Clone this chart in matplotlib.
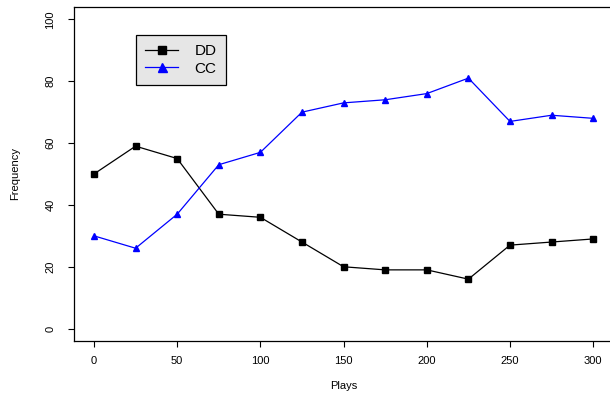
import matplotlib
matplotlib.use('Agg')
import matplotlib.pyplot as plt

plt.rcParams['font.family'] = ['Liberation Sans', 'DejaVu Sans']

plays = [0, 25, 50, 75, 100, 125, 150, 175, 200, 225, 250, 275, 300]
dd = [50, 59, 55, 37, 36, 28, 20, 19, 19, 16, 27, 28, 29]
cc = [30, 26, 37, 53, 57, 70, 73, 74, 76, 81, 67, 69, 68]
xticks = [0, 50, 100, 150, 200, 250, 300]
yticks = [0, 20, 40, 60, 80, 100]

W, H = 610, 393
fig = plt.figure(figsize=(W/100, H/100), dpi=100)
# plot region (pixels): left 74, right ~614 (runs past the edge), top 7, bottom 341
ax = fig.add_axes([74/W, 1-341/H, (614-74)/W, (341-7)/H])

ax.plot(plays, dd, color='black', lw=0.9, marker='s', ms=4.2, label='DD')
ax.plot(plays, cc, color='blue', lw=0.9, marker='^', ms=4.8, label='CC')

ax.set_xlim(-12, 312.5)
ax.set_ylim(-4, 104)
ax.set_xticks(xticks)
ax.set_yticks(yticks)
ax.tick_params(direction='out', length=4.5, width=0.8, labelsize=8, pad=6)
ax.tick_params(axis='y', labelrotation=90, pad=9)
for lab in ax.get_yticklabels():
    lab.set_va('center')
for s in ax.spines.values():
    s.set_linewidth(0.9)
ax.spines['right'].set_visible(False)  # falls just outside the image in the original

ax.set_xlabel('Plays', fontsize=8, labelpad=11)
ax.set_ylabel('Frequency', fontsize=8, labelpad=18)

leg = ax.legend(loc='upper left', bbox_to_anchor=((136-74)/540, (341-35)/334),
                fontsize=11, fancybox=False, framealpha=1, borderpad=0.62,
                handlelength=2.1, handletextpad=1.1, labelspacing=0.22,
                borderaxespad=0, markerscale=1.35)
leg.get_frame().set_facecolor('#e6e6e6')
leg.get_frame().set_edgecolor('black')
leg.get_frame().set_linewidth(0.9)

fig.savefig('out.png', dpi=100)
